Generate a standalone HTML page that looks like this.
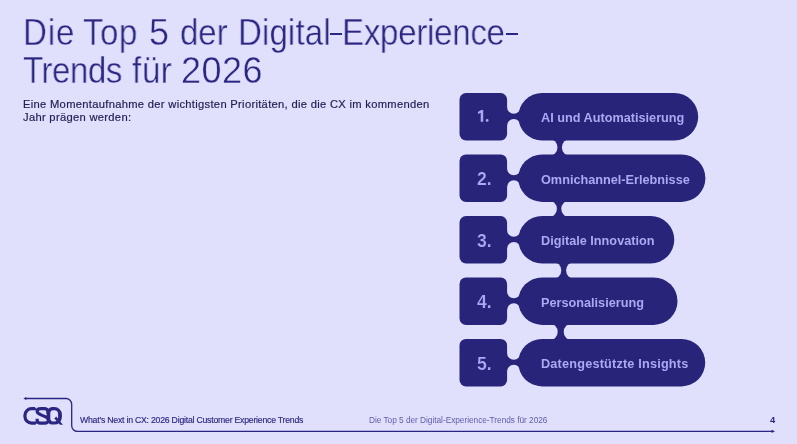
<!DOCTYPE html>
<html><head><meta charset="utf-8">
<style>
html,body{margin:0;padding:0;}
body{width:797px;height:444px;background:#E1E0FC;position:relative;overflow:hidden;font-family:"Liberation Sans",sans-serif;}
.t,.num,.lab{will-change:transform;}
.t{position:absolute;white-space:nowrap;}
#title span{position:absolute;white-space:nowrap;font-size:36px;line-height:38.8px;color:#2A2681;-webkit-text-stroke:0.4px #E1E0FC;transform-origin:0 0;will-change:transform;}
#title i{position:absolute;background:#2A2681;}
#sub{left:23px;top:98.4px;font-size:11.2px;line-height:12.7px;letter-spacing:0.3px;color:#221E52;-webkit-text-stroke:0.2px #221E52;}
svg{position:absolute;left:0;top:0;}
.num{position:absolute;font-weight:bold;font-size:17.6px;color:#ABA9F2;white-space:nowrap;-webkit-text-stroke:0.2px #28247A;}
.lab{position:absolute;font-weight:bold;font-size:12.7px;color:#ABA9F2;white-space:nowrap;}
.f1{left:80.2px;top:415.2px;font-size:8.7px;letter-spacing:-0.22px;-webkit-text-stroke:0.15px #2A2681;color:#2A2681;}
.f2{left:368.5px;top:415px;font-size:8.3px;letter-spacing:-0.03px;color:#5F5CAB;}
.f3{left:769.6px;top:414px;font-size:9.4px;font-weight:bold;color:#2A2681;}
</style></head>
<body>
<div id="title"><span style="left:22.74px;top:13.60px;letter-spacing:0.93px;transform:scaleX(0.92);">Die</span><span style="left:83.18px;top:13.60px;letter-spacing:0.48px;transform:scaleX(0.92);">Top</span><span style="left:149.20px;top:13.60px;letter-spacing:0.00px;">5</span><span style="left:179.76px;top:13.60px;letter-spacing:-0.15px;transform:scaleX(0.92);">der</span><span style="left:238.14px;top:13.60px;letter-spacing:0.11px;transform:scaleX(0.92);">Digital</span><span style="left:342.44px;top:13.60px;letter-spacing:-0.33px;transform:scaleX(0.92);">Experience</span><span style="left:22.88px;top:52.40px;letter-spacing:-0.53px;transform:scaleX(0.92);">Trends</span><span style="left:131.98px;top:52.40px;letter-spacing:0.65px;transform:scaleX(0.92);">für</span><span style="left:180.80px;top:52.40px;letter-spacing:0.47px;">2026</span><i style="left:330px;top:32.6px;width:12.2px;height:2px"></i><i style="left:506.1px;top:32.6px;width:11.6px;height:2px"></i></div>
<div class="t" id="sub">Eine Momentaufnahme der wichtigsten Prioritäten, die die CX im kommenden<br>Jahr prägen werden:</div>
<svg width="797" height="444" viewBox="0 0 797 444">
<g fill="#28247A">
<rect x="505" y="107" width="17" height="18.7"/>
<rect x="548.8" y="138.5" width="21.8" height="17.9"/>
<rect x="505" y="168.4" width="17" height="18.7"/>
<rect x="548.2" y="199.9" width="21.8" height="18.1"/>
<rect x="505" y="230" width="17" height="18.7"/>
<rect x="552.6" y="261.5" width="22.2" height="17.9"/>
<rect x="505" y="291.4" width="17" height="18.7"/>
<rect x="549" y="322.9" width="23.4" height="18"/>
<rect x="505" y="352.9" width="17" height="18.7"/>
</g>
<g fill="#E1E0FC">
<circle cx="513.8" cy="107" r="6.8"/><circle cx="513.8" cy="125.7" r="6.8"/>
<circle cx="548.8" cy="147.45" r="8.7"/><circle cx="570.6" cy="147.45" r="8.7"/>
<circle cx="513.8" cy="168.4" r="6.8"/><circle cx="513.8" cy="187.1" r="6.8"/>
<circle cx="548.2" cy="208.95" r="8.7"/><circle cx="570" cy="208.95" r="8.7"/>
<circle cx="513.8" cy="230" r="6.8"/><circle cx="513.8" cy="248.7" r="6.8"/>
<circle cx="552.6" cy="270.45" r="8.7"/><circle cx="574.8" cy="270.45" r="8.7"/>
<circle cx="513.8" cy="291.4" r="6.8"/><circle cx="513.8" cy="310.1" r="6.8"/>
<circle cx="549" cy="331.9" r="8.7"/><circle cx="572.4" cy="331.9" r="8.7"/>
<circle cx="513.8" cy="352.9" r="6.8"/><circle cx="513.8" cy="371.6" r="6.8"/>
</g>
<g fill="#28247A">
<rect x="459.5" y="93" width="47.6" height="47.5" rx="6.5"/>
<rect x="518.3" y="93" width="179.9" height="47.5" rx="23.75"/>
<rect x="459.5" y="154.4" width="47.6" height="47.5" rx="6.5"/>
<rect x="518.3" y="154.4" width="187.1" height="47.5" rx="23.75"/>
<rect x="459.5" y="216" width="47.6" height="47.5" rx="6.5"/>
<rect x="518.3" y="216" width="156" height="47.5" rx="23.75"/>
<rect x="459.5" y="277.4" width="47.6" height="47.5" rx="6.5"/>
<rect x="518.3" y="277.4" width="159.2" height="47.5" rx="23.75"/>
<rect x="459.5" y="338.9" width="47.6" height="47.5" rx="6.5"/>
<rect x="518.3" y="338.9" width="186.9" height="47.5" rx="23.75"/>
</g>
<g fill="none" stroke="#2A2681" stroke-width="1.3">
<path d="M25 398.5 H66 A5.7 5.7 0 0 1 71.7 404.2 V425.7 A5.65 5.65 0 0 0 77.35 431.35 H773"/>
</g>
<path d="M23.3 398.5 L26.3 397 L26.3 400 Z" fill="#2A2681"/>
<path d="M480.7 121.7 V112.7 L478.3 114.1 L477.8 112 L481.2 109.9 H483.2 V121.7 Z" fill="#ABA9F2"/>
<circle cx="487.15" cy="120.45" r="1.35" fill="#ABA9F2"/>
<path d="M775 431.35 L771.6 429.75 L771.6 432.95 Z" fill="#2A2681"/>
<g fill="none" stroke="#2A2681" stroke-width="3.2">
<path d="M36.2 408.7 H31.6 A6.65 6.65 0 0 0 24.95 415.35 V416.45 A6.65 6.65 0 0 0 31.6 423.1 H37"/>
<path d="M47.9 413.4 V411.6 C47.9 409.5 46.5 408.65 44 408.65 H41 C38.5 408.65 37.15 409.6 37.15 411.3 C37.15 413 38.5 413.8 40.5 414.6 L45 416.6 C47.2 417.5 48.45 418.5 48.45 420.2 C48.45 422.1 47 423.05 44.5 423.05 H40.5 C38.3 423.05 37.15 422 37.15 420.5 V418.7"/>
</g>
<path fill="#2A2681" fill-rule="evenodd" d="M52.2 407.1 H54.4 A7.5 7.5 0 0 1 61.9 414.6 V417.1 A7.5 7.5 0 0 1 54.4 424.6 H52.2 A5.5 5.5 0 0 1 46.7 419.1 V412.6 A5.5 5.5 0 0 1 52.2 407.1 Z M53.3 410.2 H54.3 A3.8 3.8 0 0 1 58.1 414 V417.8 A3.8 3.8 0 0 1 54.3 421.6 H53.3 A3 3 0 0 1 50.3 418.6 V413.2 A3 3 0 0 1 53.3 410.2 Z"/>
<path fill="#2A2681" d="M54.3 418.5 L56.2 416.6 L62.9 424.7 L60 424.7 Z"/>
<path fill="#E1E0FC" d="M34.6 406.6 L37 406.6 L35.8 408.4 Z M47.2 406.6 L49.6 406.6 L48.4 408.4 Z M35.4 425.1 L37.8 425.1 L36.6 423.3 Z M47.2 425.1 L49.6 425.1 L48.4 423.3 Z"/>
</svg>
<div class="num" style="left:476.5px;top:169px">2.</div>
<div class="num" style="left:476.5px;top:230.6px">3.</div>
<div class="num" style="left:476.5px;top:292px">4.</div>
<div class="num" style="left:476.5px;top:353.5px">5.</div>
<div class="lab" style="left:541px;top:111.4px">AI und Automatisierung</div>
<div class="lab" style="left:541px;top:172.8px">Omnichannel-Erlebnisse</div>
<div class="lab" style="left:541px;top:234.4px">Digitale Innovation</div>
<div class="lab" style="left:541px;top:295.8px">Personalisierung</div>
<div class="lab" style="left:541px;top:357.3px;letter-spacing:0.19px">Datengestützte Insights</div>
<div class="t f1">What’s Next in CX: 2026 Digital Customer Experience Trends</div>
<div class="t f2">Die Top 5 der Digital-Experience-Trends für 2026</div>
<div class="t f3">4</div>
</body></html>
